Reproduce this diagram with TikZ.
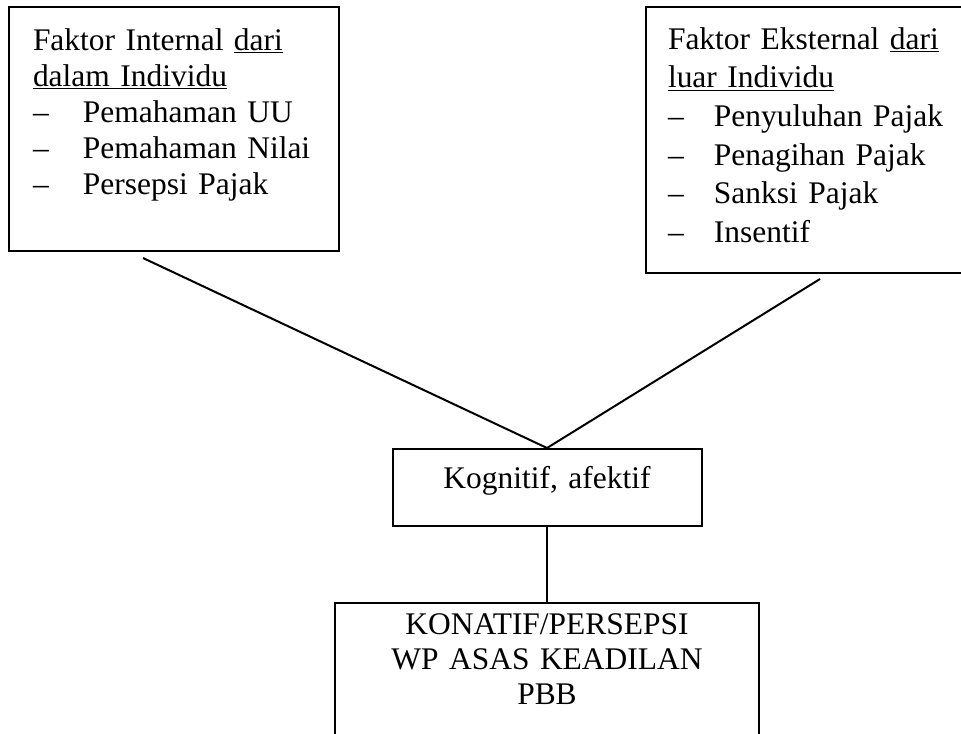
\documentclass[tikz,border=0pt]{standalone}
\usepackage{fontspec}
\setmainfont{Liberation Serif}
\usepackage{tikz}

\begin{document}
\begin{tikzpicture}[x=0.75pt, y=-0.75pt, line width=1.5pt,
  every node/.style={font=\fontsize{23.6}{27}\selectfont},
  factorbox/.style={draw, anchor=north west, align=left, inner ysep=0pt},
  resultbox/.style={draw, anchor=north, align=center, inner xsep=10pt, inner ysep=0pt}]
  \useasboundingbox (0,0) rectangle (961,733);
  \clip (0,0) rectangle (961,733);
  \node[factorbox, inner xsep=18pt, text width=211.5pt, text height=32.25pt, text depth=150.75pt] (internal) at (8,6)
    {Faktor Internal \underline{dari}\\ \underline{dalam Individu}\\
     \makebox[37.5pt][l]{--}Pemahaman UU\\ \makebox[37.5pt][l]{--}Pemahaman Nilai\\ \makebox[37.5pt][l]{--}Persepsi Pajak};
  \node[factorbox, font=\fontsize{23.6}{29}\selectfont, inner xsep=16.5pt, text width=214.5pt, text height=31.5pt, text depth=168pt] (external) at (645,6)
    {Faktor Eksternal \underline{dari}\\ \underline{luar Individu}\\
     \makebox[34.5pt][l]{--}Penyuluhan Pajak\\ \makebox[34.5pt][l]{--}Penagihan Pajak\\ \makebox[34.5pt][l]{--}Sanksi Pajak\\ \makebox[34.5pt][l]{--}Insentif};
  \node[resultbox, text width=211.75pt, text height=29.25pt, text depth=28.5pt] (kog) at (547,448) {Kognitif, afektif};
  \node[resultbox, font=\fontsize{23.6}{26.25}\selectfont, text width=298pt, text height=23.25pt, text depth=125.25pt] (konatif) at (547,602)
    {KONATIF/PERSEPSI\\ WP ASAS KEADILAN\\ PBB};
  \draw ([xshift=101.25pt, yshift=-4.5pt]internal.south west) -- (kog.north);
  \draw ([xshift=131.25pt, yshift=-3.75pt]external.south west) -- (kog.north);
  \draw (kog.south) -- (konatif.north);
\end{tikzpicture}
\end{document}
